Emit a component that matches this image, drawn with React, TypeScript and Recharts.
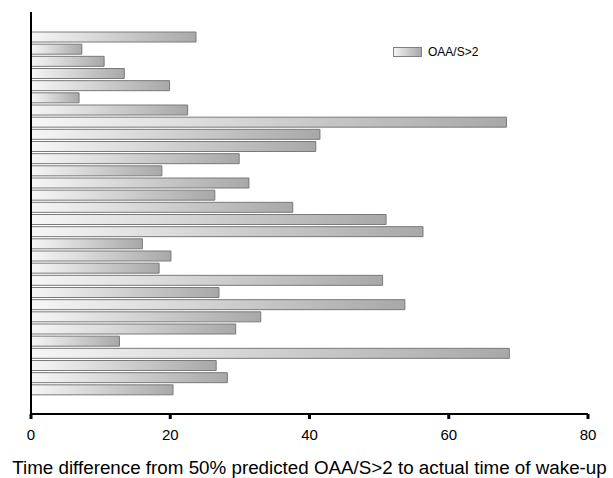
import React from "react";
import { BarChart, Bar, XAxis, YAxis, Legend } from "recharts";

const subjects = [
  "1", "2", "3", "4", "5", "6", "7", "8", "9", "10",
  "11", "12", "13", "14", "15", "16", "17", "18", "19", "20",
  "21", "22", "23", "24", "25", "26", "27", "28", "29", "30",
];
const timeDiff = [
  23.7, 7.3, 10.5, 13.4, 19.9, 6.9, 22.5, 68.3, 41.5, 40.9,
  29.9, 18.8, 31.3, 26.4, 37.6, 51.0, 56.3, 16.0, 20.1, 18.4,
  50.5, 27.0, 53.7, 33.0, 29.4, 12.7, 68.7, 26.6, 28.2, 20.4,
];
const xTicks = [0, 20, 40, 60, 80];
const seriesName = "OAA/S>2";
const axisTitle = "Time difference from 50% predicted OAA/S>2 to actual time of wake-up";

const data = subjects.map((s, i) => ({ subject: s, value: timeDiff[i] }));

const FONT = "'Liberation Sans', Arial, sans-serif";

const LegendContent = () => (
  <div style={{ display: "flex", alignItems: "center", fontFamily: FONT, fontSize: 12, color: "#000", lineHeight: "12px" }}>
    <svg width={30} height={11} style={{ marginRight: 5, display: "block" }}>
      <defs>
        <linearGradient id="legGrad" x1="0" y1="0" x2="1" y2="0">
          <stop offset="0%" stopColor="#f6f6f6" />
          <stop offset="100%" stopColor="#a6a6a6" />
        </linearGradient>
      </defs>
      <rect x={0.5} y={0.5} width={28} height={9} fill="url(#legGrad)" stroke="#808080" strokeWidth={1} />
    </svg>
    <span>{seriesName}</span>
  </div>
);

export default function App() {
  return (
    <div style={{ position: "absolute", left: 0, top: 0, width: 613, height: 478, background: "#fff" }}>
      <BarChart
        width={613}
        height={478}
        data={data}
        layout="vertical"
        margin={{ top: 12, right: 25, left: 30, bottom: 0 }}
      >
        <defs>
          <linearGradient id="barGrad" x1="0" y1="0" x2="1" y2="0">
            <stop offset="0%" stopColor="#f6f6f6" />
            <stop offset="35%" stopColor="#dcdcdc" />
            <stop offset="100%" stopColor="#a8a8a8" />
          </linearGradient>
        </defs>
        <XAxis
          type="number"
          domain={[0, 80]}
          ticks={xTicks}
          height={64}
          axisLine={{ stroke: "#000", strokeWidth: 2 }}
          tickLine={{ stroke: "#000", strokeWidth: 3 }}
          tickSize={5}
          tickMargin={10}
          tick={{ fill: "#000", fontSize: 15, fontFamily: FONT }}
          label={{
            value: axisTitle,
            position: "insideBottom",
            offset: 4,
            style: { fill: "#000", fontSize: 18.8, fontFamily: FONT },
          }}
        />
        <YAxis
          type="category"
          dataKey="subject"
          width={1}
          tick={false}
          tickLine={false}
          axisLine={{ stroke: "#000", strokeWidth: 2 }}
          padding={{ top: 19, bottom: 18 }}
        />
        <Legend
          content={<LegendContent />}
          layout="horizontal"
          verticalAlign="middle"
          align="center"
          wrapperStyle={{ left: 393, top: 46, width: 120, height: 12 }}
        />
        <Bar
          dataKey="value"
          name={seriesName}
          barSize={10}
          fill="url(#barGrad)"
          stroke="#7a7a7a"
          strokeWidth={1}
          isAnimationActive={false}
        />
      </BarChart>
    </div>
  );
}
